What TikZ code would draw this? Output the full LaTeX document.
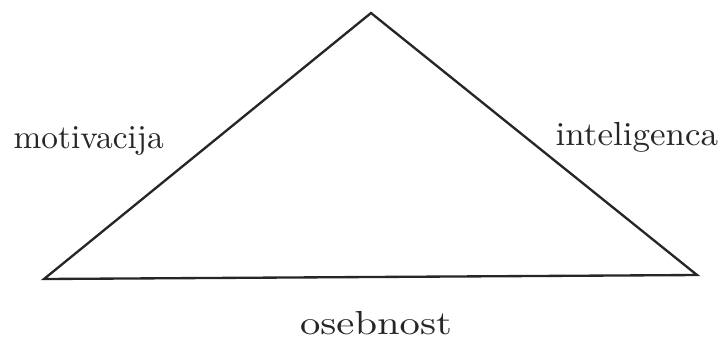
\documentclass[tikz,border=0pt]{standalone}
\usepackage{tikz}
\usetikzlibrary{positioning}
\tikzset{
  side/.style={
    draw=black!85, line width=0.7pt, line join=miter
  },
  sidelabel/.style={
    inner sep=0pt, font=\normalsize, text=black!85
  }
}
\begin{document}
\begin{tikzpicture}[x=0.3pt, y=-0.3pt]

  % ── Frame ─────────────────────────────────────────────────────────────────
  \useasboundingbox (0,0) rectangle (721,340);

  % ── Corners ───────────────────────────────────────────────────────────────
  \coordinate (top)   at (371,13);
  \coordinate (left)  at (44,279);
  \coordinate (right) at (697,275);

  % ── Triangle ──────────────────────────────────────────────────────────────
  \draw[side] (top) -- (right) -- (left) -- cycle;

  % ── Side labels ───────────────────────────────────────────────────────────
  \node[sidelabel,anchor=base west] (motiv) at (13,148) {motivacija};
  \node[sidelabel,anchor=base west,xscale=1.05] (intel) at (555,145) {inteligenca};
  \node[sidelabel,anchor=base,xscale=1.22] (oseb) at (376,334) {osebnost};

\end{tikzpicture}
\end{document}
